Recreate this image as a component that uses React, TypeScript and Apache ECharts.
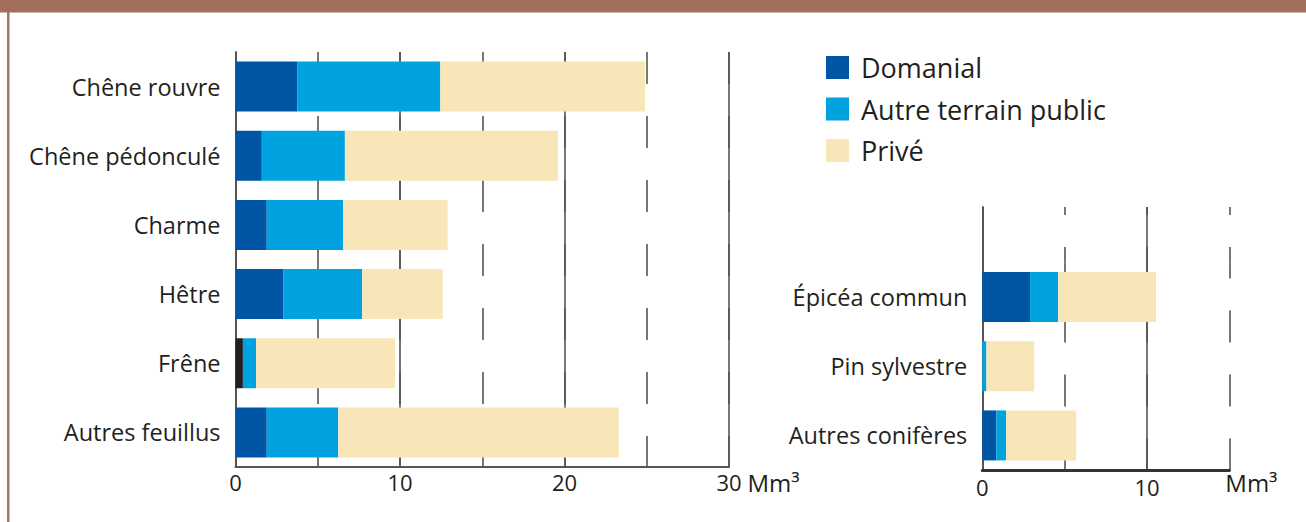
import React, { useEffect, useRef } from "react";
import * as echarts from "echarts";

const categoriesLeft = ["Chêne rouvre", "Chêne pédonculé", "Charme", "Hêtre", "Frêne", "Autres feuillus"];
const domanialLeft = [3.75, 1.6, 1.9, 2.9, 0.45, 1.9];
const autrePublicLeft = [8.7, 5.05, 4.65, 4.8, 0.8, 4.35];
const priveLeft = [12.45, 12.95, 6.35, 4.9, 8.45, 17.05];

const categoriesRight = ["Épicéa commun", "Pin sylvestre", "Autres conifères"];
const domanialRight = [2.9, 0, 0.85];
const autrePublicRight = [1.7, 0.25, 0.6];
const priveRight = [5.95, 2.9, 4.25];

const seriesNames = ["Domanial", "Autre terrain public", "Privé"];
const seriesColors = ["#0055a5", "#00a3df", "#f9e6b8"];
const leftMax = 30;
const rightMax = 15;
const unitLabel = "Mm³";

const TEXT = "#231f20";
const LINE = "#555555";
const FONT = "Open Sans";

export default function App() {
  const ref = useRef<HTMLDivElement>(null);
  useEffect(() => {
    if (!ref.current) return;
    const chart = echarts.init(ref.current, undefined, { renderer: "svg" });
    const solidSplit = (show: boolean, hideMax = false) => ({
      show,
      showMaxLine: !hideMax,
      lineStyle: { color: LINE, width: 1.6, type: "solid" },
    });
    const dashedSplit = (offset: number) => ({
      show: true,
      lineStyle: { color: LINE, width: 1.6, type: [32, 32], dashOffset: offset },
    });
    const hiddenAxis = {
      axisLine: { show: false },
      axisTick: { show: false },
      axisLabel: { show: false },
    };

    const leftData = [domanialLeft, autrePublicLeft, priveLeft];
    const rightData = [domanialRight, autrePublicRight, priveRight];

    const series: any[] = [];
    seriesNames.forEach((name, i) => {
      series.push({
        type: "bar",
        name,
        stack: "L",
        xAxisIndex: 0,
        yAxisIndex: 0,
        barWidth: 50,
        itemStyle: { color: seriesColors[i] },
        data: leftData[i].map((v, j) =>
          i === 0 && categoriesLeft[j] === "Frêne" ? { value: v, itemStyle: { color: TEXT } } : v
        ),
      });
    });
    seriesNames.forEach((name, i) => {
      series.push({
        type: "bar",
        name,
        stack: "R",
        xAxisIndex: 2,
        yAxisIndex: 1,
        barWidth: 50,
        itemStyle: { color: seriesColors[i] },
        data: rightData[i],
      });
    });

    const catLabel = { fontSize: 23.5, color: TEXT, margin: 15, fontFamily: FONT };
    const unitStyle = { fontSize: 24, color: TEXT, fontFamily: FONT, verticalAlign: "top" };

    chart.setOption({
      animation: false,
      textStyle: { fontFamily: FONT, color: TEXT },
      legend: {
        data: seriesNames,
        orient: "vertical",
        left: 826,
        top: 54,
        padding: 0,
        itemWidth: 23,
        itemHeight: 23,
        itemGap: 14.5,
        icon: "rect",
        selectedMode: false,
        textStyle: { fontSize: 27, color: TEXT, fontFamily: FONT, padding: [0, 0, 0, 7] },
      },
      grid: [
        { left: 235.5, top: 52, width: 493.5, height: 415 },
        { left: 982.3, top: 262.5, width: 247, height: 207.5 },
        { left: 982.3, top: 207, width: 247, height: 55.5 },
      ],
      xAxis: [
        {
          type: "value",
          gridIndex: 0,
          min: 0,
          max: leftMax,
          interval: 10,
          axisLine: { show: true, lineStyle: { color: LINE, width: 2 } },
          axisTick: { show: false },
          axisLabel: { fontSize: 22, color: TEXT, margin: 4, fontFamily: FONT },
          splitLine: solidSplit(true),
          name: unitLabel,
          nameLocation: "end",
          nameGap: 15,
          nameTextStyle: { ...unitStyle, padding: [3, 0, 0, 0] },
        },
        { type: "value", gridIndex: 0, min: 0, max: leftMax, interval: 5, ...hiddenAxis, splitLine: dashedSplit(0) },
        {
          type: "value",
          gridIndex: 1,
          min: 0,
          max: rightMax,
          interval: 10,
          axisLine: { show: true, lineStyle: { color: "#333333", width: 3 } },
          axisTick: { show: false },
          axisLabel: { fontSize: 22, color: TEXT, margin: 6, fontFamily: FONT, showMaxLabel: false },
          splitLine: solidSplit(true, true),
          name: unitLabel,
          nameLocation: "end",
          nameGap: -4,
          nameTextStyle: { ...unitStyle, padding: [0, 0, 0, 0] },
        },
        { type: "value", gridIndex: 1, min: 0, max: rightMax, interval: 5, ...hiddenAxis, splitLine: dashedSplit(15.5) },
        {
          type: "value",
          gridIndex: 2,
          min: 0,
          max: rightMax,
          interval: 10,
          ...hiddenAxis,
          splitLine: solidSplit(true, true),
        },
        { type: "value", gridIndex: 2, min: 0, max: rightMax, interval: 5, ...hiddenAxis, splitLine: dashedSplit(24) },
      ],
      yAxis: [
        {
          type: "category",
          gridIndex: 0,
          inverse: true,
          data: categoriesLeft,
          axisLine: { show: true, lineStyle: { color: LINE, width: 2 } },
          axisTick: { show: false },
          axisLabel: catLabel,
        },
        {
          type: "category",
          gridIndex: 1,
          inverse: true,
          data: categoriesRight,
          axisLine: { show: true, lineStyle: { color: LINE, width: 2 } },
          axisTick: { show: false },
          axisLabel: catLabel,
        },
        {
          type: "category",
          gridIndex: 2,
          data: [""],
          axisLine: { show: true, lineStyle: { color: LINE, width: 2 } },
          axisTick: { show: false },
          axisLabel: { show: false },
        },
      ],
      graphic: [
        { type: "rect", shape: { x: 0, y: 0, width: 1306, height: 12.5 }, style: { fill: "#a26f5d" }, silent: true },
        { type: "rect", shape: { x: 7, y: 12, width: 2.5, height: 510 }, style: { fill: "#a87462" }, silent: true },
      ],
      series,
    });
    return () => chart.dispose();
  }, []);
  return <div ref={ref} style={{ position: "fixed", left: 0, top: 0, width: 1306, height: 522, background: "#fff" }} />;
}
